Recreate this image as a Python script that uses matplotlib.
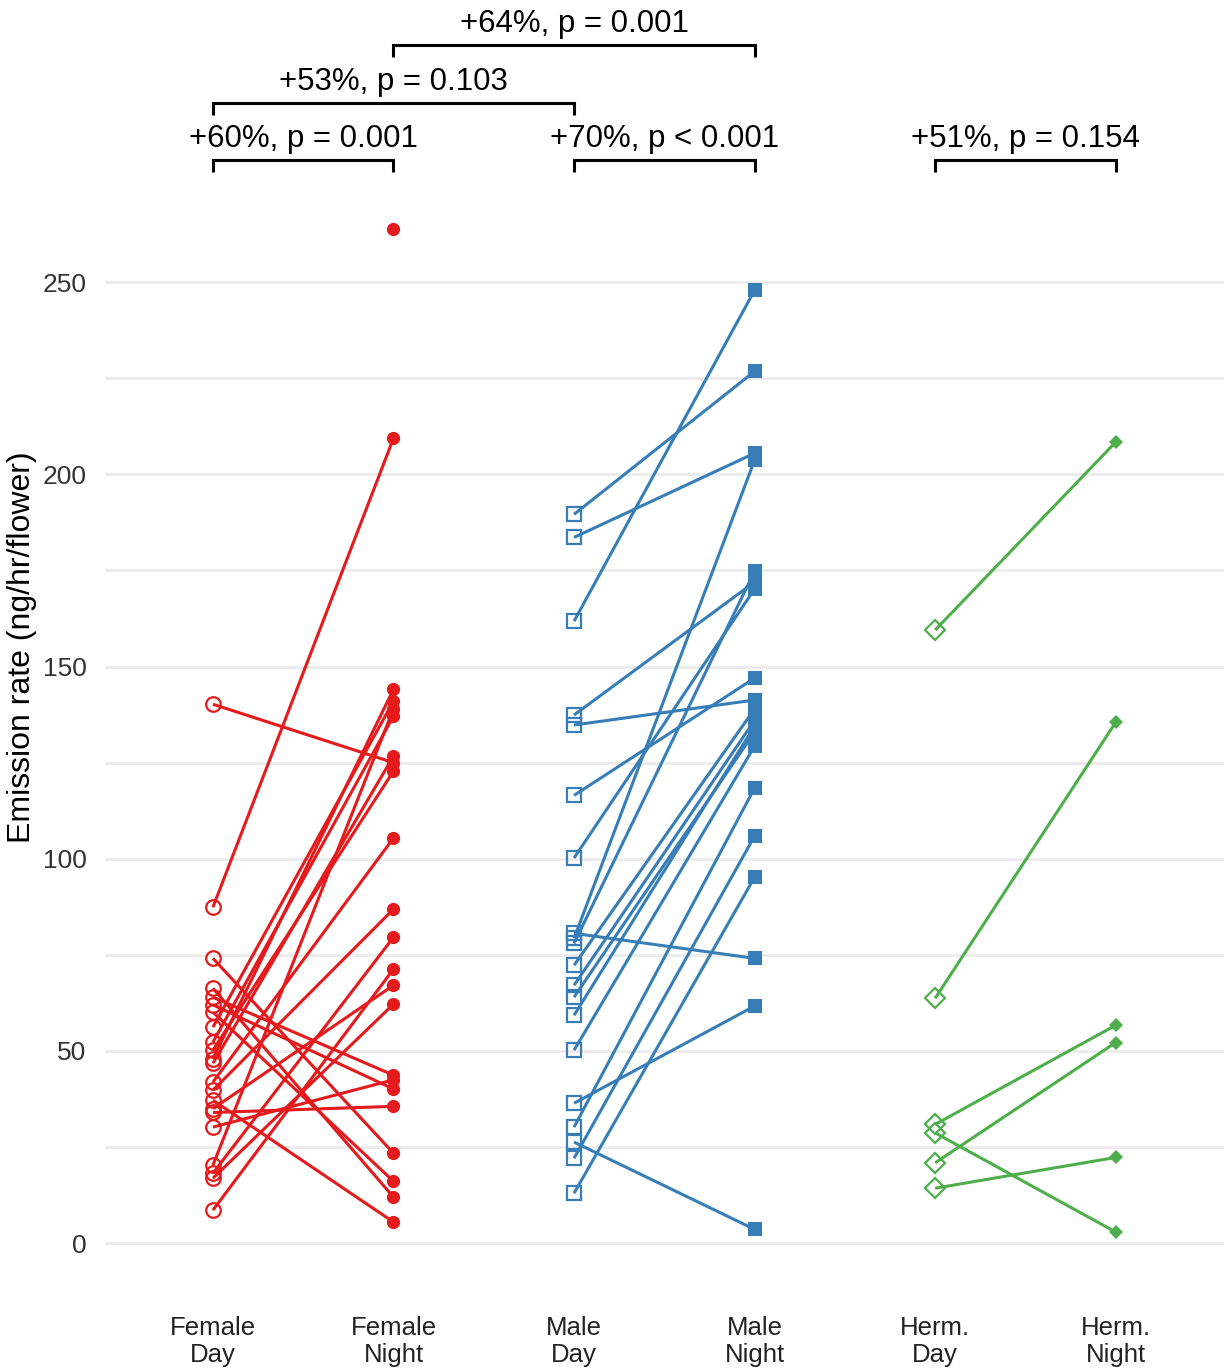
import numpy as np
import matplotlib.pyplot as plt

plt.rcParams['font.family'] = ['Liberation Sans', 'DejaVu Sans']

# paired emission rates (day -> night), nan = no day value
female_day = [140.2, 87.4, 74.1, 66.3, 64.0, 62.0, 60.1, 56.2, 52.3, 50.2, 48.0, 46.8,
              41.9, 39.8, 37.2, 35.0, 34.0, 30.2, 20.3, 18.2, 16.9, 8.6, np.nan]
female_night = [125.0, 209.4, 23.4, 12.0, 43.7, 40.1, 16.1, 141.0, 137.1, 122.8, 144.1, 126.7,
                105.4, 86.9, 5.5, 67.1, 35.6, 42.5, 139.0, 79.6, 62.2, 71.3, 263.8]

male_day = [189.6, 183.6, 161.8, 137.4, 134.8, 116.5, 100.2, 80.6, 79.3, 78.0, 72.3,
            67.1, 64.0, 59.3, 50.2, 36.4, 30.2, 26.3, 22.1, 13.0]
male_night = [226.8, 205.5, 247.9, 172.0, 141.3, 147.0, 170.2, 74.1, 203.7, 174.8, 139.0,
              136.0, 133.0, 134.5, 129.3, 61.7, 118.4, 3.6, 105.9, 95.2]

herm_day = [159.5, 63.7, 30.9, 28.7, 20.9, 14.3]
herm_night = [208.4, 135.5, 56.7, 2.9, 52.2, 22.3]

tick_labels = ['Female\nDay', 'Female\nNight', 'Male\nDay', 'Male\nNight',
               'Herm.\nDay', 'Herm.\nNight']

brackets = [(1, 2, '+60%, p = 0.001', 0), (3, 4, '+70%, p < 0.001', 0),
            (5, 6, '+51%, p = 0.154', 0), (1, 3, '+53%, p = 0.103', 1),
            (2, 4, '+64%, p = 0.001', 2)]

colors = ['#E41A1C', '#377EB8', '#4DAF4A']
markers = ['o', 's', 'D']
msizes = [(10.5, 9.5), (10, 9.5), (10.5, 7)]
data = [(female_day, female_night), (male_day, male_night), (herm_day, herm_night)]

fig = plt.figure(figsize=(12.25, 13.72), dpi=100)
ax = fig.add_axes([0.0854, 0.0569, 0.9138, 0.9431])

for g, (day, night) in enumerate(data):
    xd, xn = 2 * g + 1, 2 * g + 2
    c = colors[g]
    for d, n in zip(day, night):
        ax.plot([xd, xn], [d, n], color=c, lw=2.2, zorder=3, solid_capstyle='butt')
    ax.plot(np.full(len(day), xd), day, ls='none', marker=markers[g], ms=msizes[g][0],
            mfc='none', mec=c, mew=1.6, zorder=4)
    ax.plot(np.full(len(night), xn), night, ls='none', marker=markers[g], ms=msizes[g][1],
            mfc=c, mec=c, mew=0, zorder=4)

# significance brackets
levels = [281.7, 296.5, 311.6]
for x1, x2, lab, lv in brackets:
    yb = levels[lv]
    ax.plot([x1, x1, x2, x2], [yb - 3.0, yb, yb, yb - 3.0], color='black', lw=2.2,
            solid_capstyle='butt', solid_joinstyle='miter', zorder=5)
    ax.text((x1 + x2) / 2, yb + 1.6, lab, ha='center', va='bottom', fontsize=22.5,
            color='black')

ax.set_xlim(0.4, 6.6)
ax.set_ylim(-13.2, 323.4)
ax.set_xticks(range(1, 7))
ax.set_xticklabels(tick_labels, fontsize=18.5, color='#222222', linespacing=1.15)
ax.set_yticks([0, 50, 100, 150, 200, 250])
ax.set_yticks([25, 75, 125, 175, 225], minor=True)
ax.tick_params(axis='y', labelsize=19, labelcolor='#333333', length=0, pad=13)
ax.tick_params(axis='y', which='minor', length=0)
ax.tick_params(axis='x', length=0, pad=16)
ax.grid(axis='y', which='both', color='#EBEBEB', lw=2.0)
ax.set_axisbelow(True)
for s in ax.spines.values():
    s.set_visible(False)
ax.set_ylabel('Emission rate (ng/hr/flower)', fontsize=23)
ax.yaxis.set_label_coords(-0.0604, 0.5)

fig.savefig('out.png', dpi=100)
